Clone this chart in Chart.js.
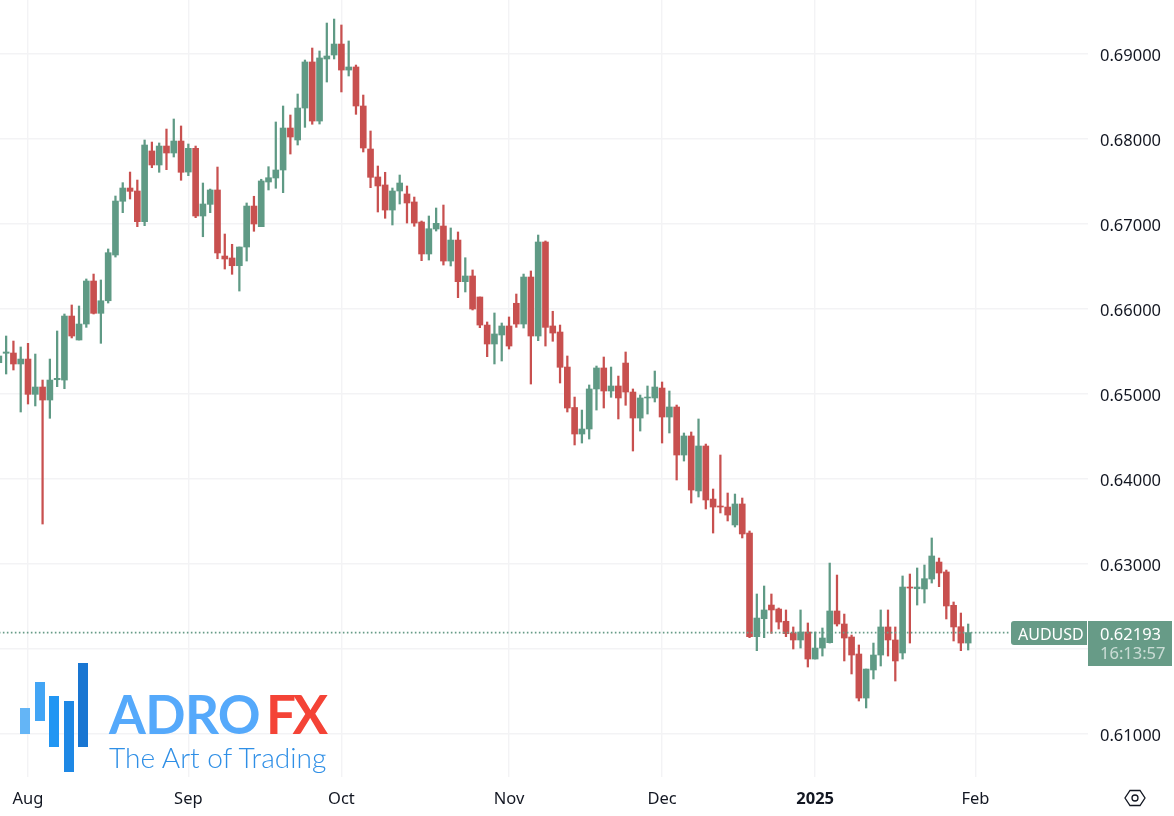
<!DOCTYPE html>
<html lang="en">
<head>
    <meta charset="UTF-8">
    <title>AUDUSD Daily</title>
    <script src="https://cdn.jsdelivr.net/npm/chart.js"></script>
    <style>
        * { margin: 0; padding: 0; box-sizing: border-box; }
        body { background: #fff; width: 1174px; height: 816px; overflow: hidden; position: relative; }
        canvas { position: absolute; left: 0; top: 0; }
        .logo-bar { position: absolute; width: 10px; }
        .logo-text { position: absolute; white-space: nowrap; font-family: Lato, sans-serif; }
        #brand { left: 109px; top: 681px; font-size: 53px; font-weight: 700; line-height: 66px; color: #55a9fb; letter-spacing: -0.6px; }
        #brand span { color: #f44336; margin-left: 6px; letter-spacing: -3.5px; }
        #slogan { left: 109px; top: 740px; font-size: 28.1px; font-weight: 300; line-height: 34px; color: #2f8fe6; }
        #gear { position: absolute; left: 1124px; top: 787px; }
    </style>
</head>
<body>
    <canvas id="chart" width="1174" height="816"></canvas>

    <div class="logo-bar" style="left:20px;top:708px;height:26px;background:#64b5f6"></div>
    <div class="logo-bar" style="left:34.5px;top:682px;height:39px;background:#42a5f5"></div>
    <div class="logo-bar" style="left:49px;top:696px;height:51px;background:#2196f3"></div>
    <div class="logo-bar" style="left:63.5px;top:701px;height:71px;background:#1e88e5"></div>
    <div class="logo-bar" style="left:78px;top:663px;height:84px;background:#1976d2"></div>
    <div class="logo-text" id="brand">ADRO<span>FX</span></div>
    <div class="logo-text" id="slogan">The Art of Trading</div>

    <svg id="gear" width="22" height="22" viewBox="0 0 22 22" fill="none" stroke="#131722" stroke-width="1.3">
        <path d="M6 3.5 H16 L21 11 L16 18.5 H6 L1 11 Z"/>
        <circle cx="11" cy="11" r="3"/>
    </svg>

    <script>
        const opens = [.65368,.65479,.65482,.65353,.65411,.64996,.65082,.64929,.65168,.65164,.65917,.65635,.65823,.66329,.65949,.66097,.66635,.67267,.67423,.67388,.67027,.67859,.67694,.67917,.67835,.67976,.67611,.67890,.67094,.67231,.67400,.66623,.66600,.66509,.66729,.67211,.66968,.67494,.67541,.67635,.68129,.67988,.68364,.68906,.68211,.68941,.68988,.69117,.68811,.68847,.68388,.67882,.67553,.67459,.67164,.67388,.67353,.67259,.67023,.66647,.66941,.66976,.66564,.66811,.66321,.66388,.66141,.65811,.65588,.65694,.65800,.66067,.65823,.66376,.65682,.66788,.65800,.65729,.65317,.64841,.64529,.64588,.65059,.65306,.65035,.65094,.65364,.65023,.64717,.64953,.64953,.65070,.64729,.64847,.64282,.64506,.63859,.64388,.63764,.63682,.63670,.63459,.63706,.63364,.62145,.62356,.62517,.62470,.62326,.62188,.62106,.62200,.61882,.62011,.62074,.62447,.62294,.62141,.61941,.61423,.61753,.61929,.62259,.62106,.61953,.62729,.62709,.62706,.62823,.63023,.62906,.62514,.62262,.62070];
        const closes = [.65447,.65494,.65353,.65411,.64996,.65082,.64929,.65164,.65184,.65917,.65682,.65823,.66329,.65949,.66097,.66662,.67270,.67423,.67384,.67027,.67929,.67694,.67917,.67835,.67976,.67608,.67890,.67094,.67235,.67400,.66659,.66588,.66509,.66729,.67211,.67000,.67506,.67544,.67635,.68129,.68023,.68364,.68906,.68211,.68953,.68976,.69117,.68811,.68847,.68388,.67894,.67549,.67447,.67164,.67388,.67482,.67247,.67011,.66647,.66944,.67008,.66564,.66811,.66321,.66388,.66000,.65811,.65588,.65706,.65800,.65564,.65823,.66376,.65682,.66788,.65784,.65717,.65314,.64835,.64529,.64588,.65059,.65306,.65035,.65094,.64953,.65023,.64717,.64953,.64964,.65082,.64729,.64847,.64282,.64506,.63870,.64388,.63753,.63670,.63670,.63576,.63706,.63353,.62145,.62364,.62459,.62459,.62317,.62180,.62106,.62200,.61882,.62011,.62129,.62447,.62294,.62129,.61929,.61423,.61764,.61929,.62259,.62106,.61859,.62729,.62717,.62729,.62827,.63094,.62894,.62506,.62259,.62070,.62193];
        const highs = [.65482,.65682,.65623,.65553,.65596,.65470,.65164,.65411,.65741,.65941,.66047,.66035,.66353,.66411,.66341,.66706,.67329,.67486,.67611,.67517,.67988,.67964,.67953,.68117,.68235,.68153,.67941,.67917,.67482,.67411,.67670,.66882,.66761,.66729,.67247,.67326,.67526,.67674,.68200,.68388,.68282,.68529,.68929,.69070,.69035,.69364,.69411,.69341,.69153,.68870,.68517,.68094,.67682,.67608,.67423,.67576,.67447,.67317,.67035,.67094,.67188,.67223,.66953,.66906,.66603,.66459,.66141,.65847,.65953,.65835,.65906,.66176,.66411,.66447,.66870,.66800,.65973,.65811,.65447,.64964,.64811,.65106,.65329,.65435,.65317,.65211,.65494,.65059,.64988,.65094,.65270,.65141,.65035,.64870,.64541,.64553,.64706,.64411,.63882,.64282,.63835,.63823,.63776,.63388,.62647,.62741,.62647,.62482,.62459,.62259,.62459,.62306,.62200,.62247,.63011,.62870,.62411,.62164,.62047,.61764,.62070,.62459,.62459,.62259,.62859,.62882,.62953,.62988,.63306,.63070,.62929,.62553,.62423,.62294];
        const lows = [.65329,.65235,.65282,.64788,.64882,.64859,.63470,.64714,.65086,.65062,.65659,.65635,.65784,.65941,.65596,.66070,.66611,.67133,.67294,.66968,.66980,.67662,.67608,.67639,.67788,.67514,.67568,.67074,.66850,.67133,.66591,.66470,.66408,.66211,.66564,.66914,.66968,.67400,.67420,.67368,.67823,.67929,.68137,.68173,.68176,.68670,.68941,.68553,.68741,.68290,.67847,.67427,.67141,.67067,.66988,.67235,.67011,.66973,.66568,.66576,.66917,.66517,.66506,.66133,.66200,.65988,.65780,.65439,.65353,.65388,.65529,.65784,.65776,.65117,.65627,.65564,.65620,.65129,.64788,.64400,.64423,.64470,.64811,.64835,.64961,.64706,.64867,.64329,.64564,.64764,.64906,.64423,.64541,.63988,.64211,.63717,.63788,.63647,.63364,.63600,.63506,.63435,.63306,.62133,.61980,.62133,.62184,.62235,.62145,.62000,.62011,.61788,.61882,.61917,.62070,.62270,.61859,.61706,.61388,.61306,.61647,.61800,.61917,.61623,.61882,.62070,.62517,.62541,.62776,.62733,.62353,.62094,.61980,.61988];

        const priceTicks = [0.61, 0.62, 0.63, 0.64, 0.65, 0.66, 0.67, 0.68, 0.69];
        const monthBars = [4, 26, 47, 70, 91, 112, 134];
        const monthLabels = ['Aug', 'Sep', 'Oct', 'Nov', 'Dec', '2025', 'Feb'];
        const symbol = 'AUDUSD';
        const lastPrice = 0.62193;
        const countdown = '16:13:57';

        const UP = '#5f9a85';
        const DOWN = '#c8504f';
        const TAG = '#679b87';
        const GRID = '#f3f3f5';
        const FONT = '"Noto Sans", sans-serif';

        const barColors = closes.map((c, i) => c >= opens[i] ? UP : DOWN);

        // last price tags on the right, they follow the y scale
        const priceTag = {
            id: 'priceTag',
            afterDraw(chart) {
                const c = chart.ctx;
                const y = Math.round(chart.scales.y.getPixelForValue(lastPrice));
                c.save();
                c.fillStyle = TAG;
                c.beginPath();
                c.roundRect(1011, y - 12, 76, 24, [3, 0, 0, 3]);
                c.fill();
                c.fillRect(1088, y - 12, 84, 45);
                c.textBaseline = 'middle';
                c.textAlign = 'left';
                c.fillStyle = '#fff';
                c.font = '16px ' + FONT;
                c.fillText(symbol, 1018, y + 2);
                c.font = '16.5px ' + FONT;
                c.fillText(lastPrice.toFixed(5), 1100, y + 2);
                c.fillStyle = 'rgba(255,255,255,0.65)';
                c.fillText(countdown, 1100, y + 21);
                c.restore();
            }
        };

        new Chart(document.getElementById('chart'), {
            data: {
                datasets: [
                    {
                        type: 'line',
                        data: [{ x: 0, y: lastPrice }, { x: 138.7, y: lastPrice }],
                        borderColor: TAG,
                        borderWidth: 1.6,
                        borderDash: [1.6, 2.4],
                        pointRadius: 0,
                        order: 0
                    },
                    {
                        type: 'bar',
                        data: opens.map((o, i) => ({ x: i, y: [o, closes[i]] })),
                        backgroundColor: barColors,
                        barThickness: 6,
                        grouped: false,
                        order: 1
                    },
                    {
                        type: 'bar',
                        data: lows.map((l, i) => ({ x: i, y: [l, highs[i]] })),
                        backgroundColor: barColors,
                        barThickness: 1.6,
                        grouped: false,
                        order: 2
                    }
                ]
            },
            options: {
                responsive: false,
                animation: false,
                layout: { padding: 0 },
                plugins: { legend: { display: false }, tooltip: { enabled: false } },
                scales: {
                    x: {
                        type: 'linear',
                        min: 0.158,
                        max: 149.44,
                        offset: false,
                        grid: { color: GRID, lineWidth: 1.4, drawTicks: false, offset: false },
                        border: { display: false },
                        afterBuildTicks: s => { s.ticks = monthBars.map(v => ({ value: v })); },
                        afterFit: s => { s.height = 39; s.paddingLeft = 0; s.paddingRight = 0; },
                        ticks: {
                            autoSkip: false,
                            maxRotation: 0,
                            padding: 12,
                            color: '#131722',
                            font: ctx => ({ family: FONT, size: 16.5, weight: ctx.tick && ctx.tick.value === 112 ? '700' : '400' }),
                            callback: v => monthLabels[monthBars.indexOf(v)]
                        }
                    },
                    y: {
                        position: 'right',
                        min: 0.60494,
                        max: 0.69635,
                        grid: { color: GRID, lineWidth: 1.4, drawTicks: false },
                        border: { display: false },
                        afterBuildTicks: s => { s.ticks = priceTicks.map(v => ({ value: v })); },
                        afterFit: s => { s.width = 86; s.paddingTop = 0; s.paddingBottom = 0; },
                        ticks: {
                            padding: 12,
                            labelOffset: 2,
                            color: '#131722',
                            font: { family: FONT, size: 16.5 },
                            callback: v => v.toFixed(5)
                        }
                    }
                }
            },
            plugins: [priceTag]
        });
    </script>
</body>
</html>
